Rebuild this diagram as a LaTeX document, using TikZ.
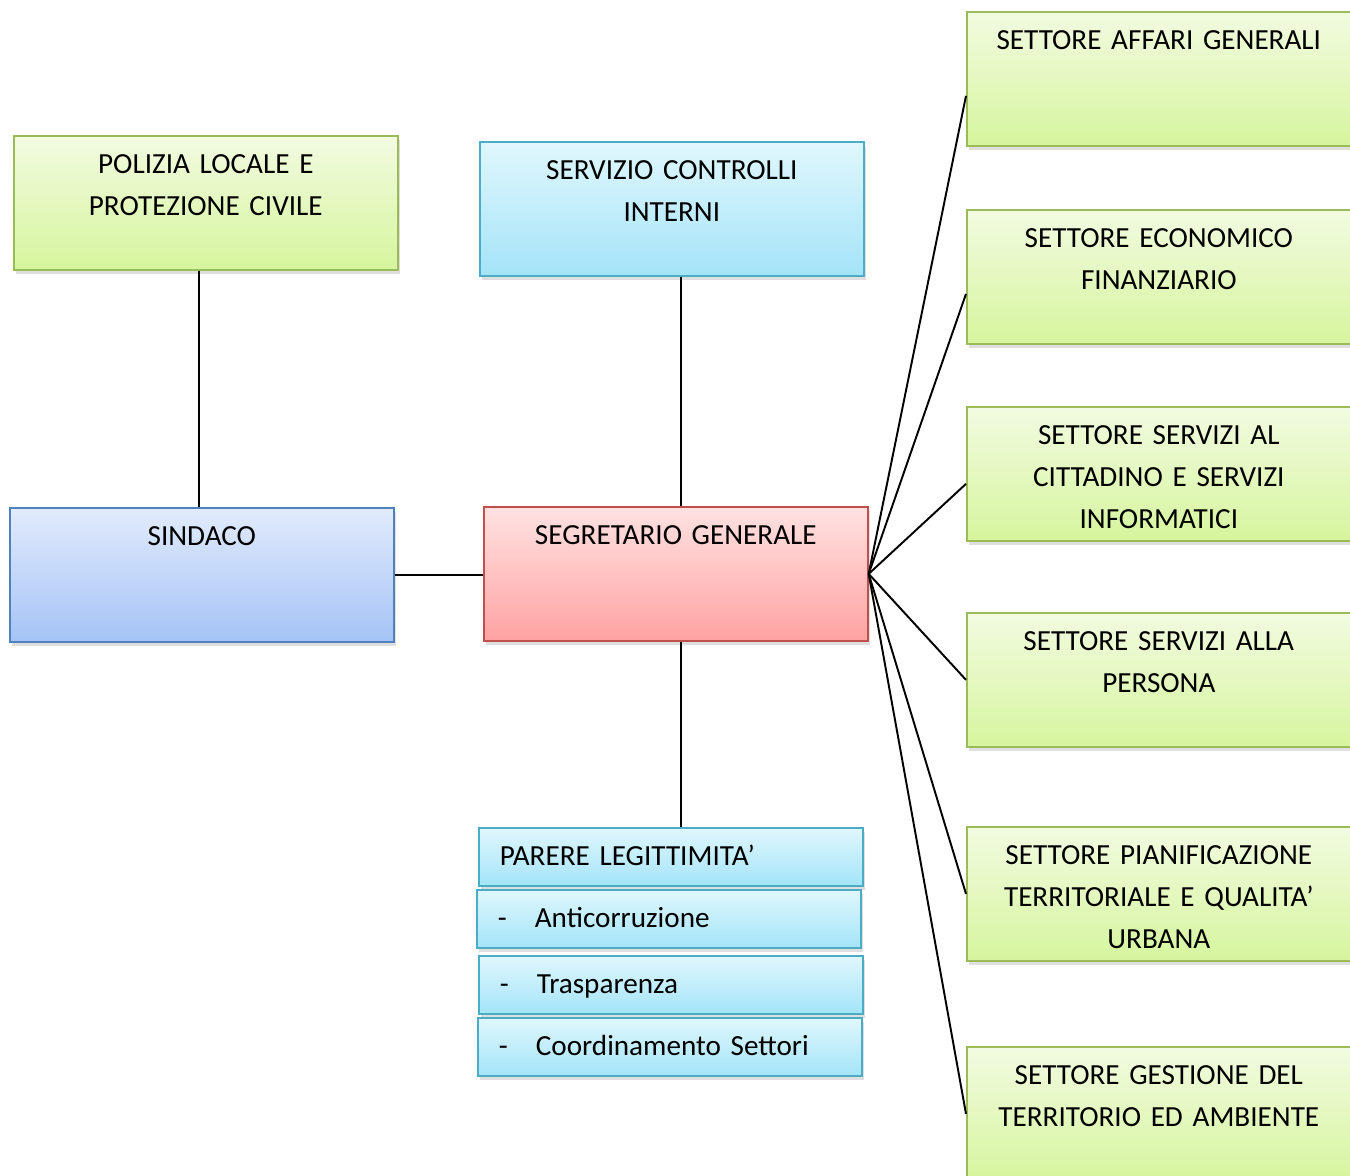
\documentclass[tikz,border=0pt]{standalone}
\usepackage{fontspec}
\setmainfont{Carlito}
\usetikzlibrary{shadows}
\definecolor{grnline}{RGB}{155,187,89}
\definecolor{grntop}{RGB}{242,251,225}
\definecolor{grnbot}{RGB}{214,245,158}
\definecolor{cyanline}{RGB}{75,172,198}
\definecolor{cyantop}{RGB}{224,247,253}
\definecolor{cyanbot}{RGB}{164,228,248}
\definecolor{blueline}{RGB}{79,129,189}
\definecolor{bluetop}{RGB}{226,235,252}
\definecolor{bluebot}{RGB}{165,195,246}
\definecolor{redline}{RGB}{192,80,77}
\definecolor{redtop}{RGB}{255,226,226}
\definecolor{redbot}{RGB}{255,162,162}
\begin{document}
\begin{tikzpicture}[x=0.02cm, y=-0.02cm,
    font=\fontsize{16.6}{23.8}\selectfont,
    box/.style={draw, line width=1pt, text width=7.68cm, align=center,
      inner xsep=0pt, inner ysep=0pt, text height=0.76cm, text depth=1.92cm,
      anchor=north west,
      drop shadow={opacity=0.25, shadow xshift=0.04cm, shadow yshift=-0.09cm}},
    itembox/.style={draw=cyanline, top color=cyantop, bottom color=cyanbot,
      line width=1pt, text width=6.84cm, align=left,
      inner xsep=0.42cm, inner ysep=0pt, text height=0.76cm, text depth=0.4cm,
      anchor=north west,
      drop shadow={opacity=0.25, shadow xshift=0.04cm, shadow yshift=-0.09cm}},
    greenfill/.style={draw=grnline, top color=grntop, bottom color=grnbot},
    cyanfill/.style={draw=cyanline, top color=cyantop, bottom color=cyanbot},
    bluefill/.style={draw=blueline, top color=bluetop, bottom color=bluebot},
    redfill/.style={draw=redline, top color=redtop, bottom color=redbot},
    link/.style={line width=1.1pt}]
  \useasboundingbox (0,0) rectangle (1350,1176);

  % left and centre column
  \node[box, greenfill] (polizia) at (13,135) {POLIZIA LOCALE E\\PROTEZIONE CIVILE};
  \node[box, cyanfill] (controlli) at (479,141) {SERVIZIO CONTROLLI\\INTERNI};
  \node[box, bluefill] (sindaco) at (9,507) {SINDACO};
  \node[box, redfill] (segretario) at (483,506) {SEGRETARIO GENERALE};

  \node[itembox] (parere) at (478,827) {PARERE LEGITTIMITA’};
  \node[itembox] (anticorr) at (476,889) {\makebox[0.74cm][l]{-}Anticorruzione};
  \node[itembox] (traspar) at (478,955) {\makebox[0.74cm][l]{-}Trasparenza};
  \node[itembox] (coord) at (477,1017) {\makebox[0.74cm][l]{-}Coordinamento Settori};

  % settori
  \node[box, greenfill] (affari) at (966,11) {SETTORE AFFARI GENERALI};
  \node[box, greenfill] (economico) at (966,209) {SETTORE ECONOMICO\\FINANZIARIO};
  \node[box, greenfill] (cittadino) at (966,406) {SETTORE SERVIZI AL\\CITTADINO E SERVIZI\\INFORMATICI};
  \node[box, greenfill] (persona) at (966,612) {SETTORE SERVIZI ALLA\\PERSONA};
  \node[box, greenfill] (pianif) at (966,826) {SETTORE PIANIFICAZIONE\\TERRITORIALE E QUALITA’\\URBANA};
  \node[box, greenfill] (gestione) at (966,1046) {SETTORE GESTIONE DEL\\TERRITORIO ED AMBIENTE};

  \begin{scope}[link]
    \draw ([xshift=-0.06cm]sindaco.north) -- ([xshift=-0.06cm]sindaco.north |- polizia.south);
    \draw ([xshift=0.1cm]segretario.north) -- ([xshift=0.1cm]segretario.north |- controlli.south);
    \draw (sindaco.east) -- (sindaco.east -| segretario.west);
    \draw ([xshift=0.1cm]segretario.south) -- ([xshift=0.1cm]segretario.south |- parere.north);
    \draw (segretario.east) -- ([yshift=-0.34cm]affari.west);
    \draw (segretario.east) -- ([yshift=-0.34cm]economico.west);
    \draw (segretario.east) -- ([yshift=-0.2cm]cittadino.west);
    \draw (segretario.east) -- (persona.west);
    \draw (segretario.east) -- (pianif.west);
    \draw (segretario.east) -- (gestione.west);
  \end{scope}
\end{tikzpicture}
\end{document}
